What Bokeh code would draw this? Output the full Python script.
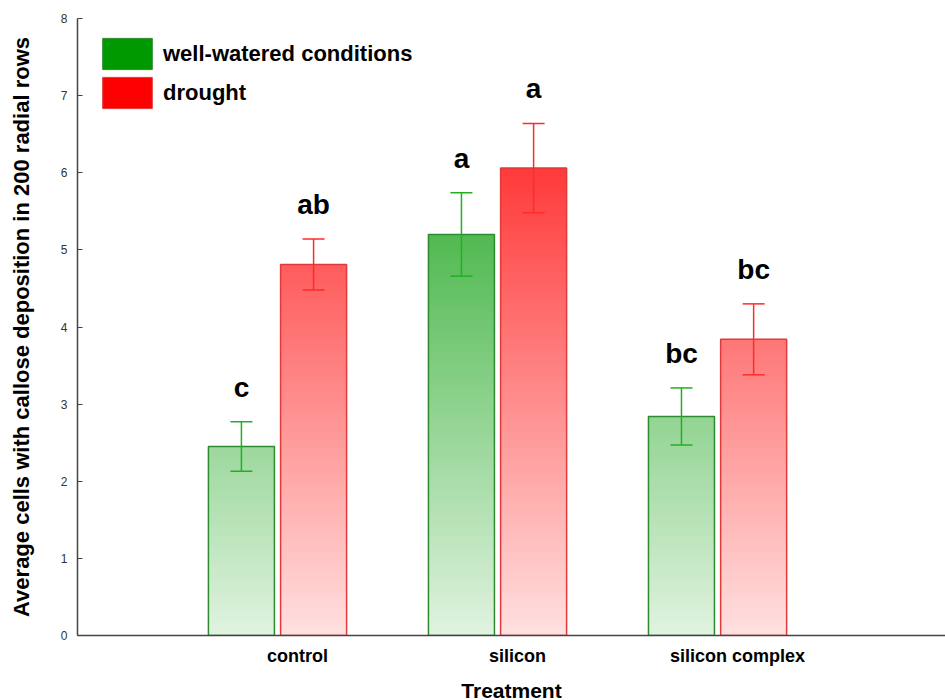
import numpy as np
from bokeh.plotting import figure
from bokeh.models import (Range1d, FixedTicker, Whisker, TeeHead, ColumnDataSource,
                          Legend, LegendItem)
from bokeh.core.properties import value
from bokeh.embed import file_html
from bokeh.resources import INLINE

# ---- data ----
categories = ["control", "silicon", "silicon complex"]
series_names = ["well-watered conditions", "drought"]
well_mean = [2.45, 5.20, 2.84]
well_err = [0.32, 0.54, 0.37]
drought_mean = [4.81, 6.06, 3.84]
drought_err = [0.33, 0.58, 0.46]
well_letters = ["c", "a", "bc"]
drought_letters = ["ab", "a", "bc"]
y_ticks = [0, 1, 2, 3, 4, 5, 6, 7, 8]

FONT = "Liberation Sans"
cat_pos = np.arange(1, len(categories) + 1, dtype=float)
BAR_W = 0.30
OFFSETS = [-0.255, 0.073]
BASES = [(0, 153, 0), (255, 0, 0)]
OUTLINES = ["#2e8a2e", "#e03a3a"]
ERRCOL = ["#22b022", "#ff2a2a"]

p = figure(frame_width=868, frame_height=617,
           x_range=Range1d(0, 3.945), y_range=Range1d(0, 8),
           output_backend="svg", toolbar_location=None,
           min_border_left=77, min_border_right=0, min_border_top=18, min_border_bottom=62)
p.grid.visible = False
p.outline_line_color = None
p.background_fill_color = "white"


def shade(base, y):
    a = min(1.0, 0.12 + 0.108 * y)
    return "#%02x%02x%02x" % tuple(int(round(255 * (1 - a) + c * a)) for c in base)


STEP = 0.04
for si, (means, errs, letters) in enumerate([(well_mean, well_err, well_letters),
                                              (drought_mean, drought_err, drought_letters)]):
    xs = cat_pos + OFFSETS[si]
    # gradient fill from stacked opaque slices
    L, R, B, T, C = [], [], [], [], []
    for x, m in zip(xs, means):
        for y0 in np.arange(0, m, STEP):
            L.append(x - BAR_W / 2)
            R.append(x + BAR_W / 2)
            B.append(y0)
            T.append(min(y0 + STEP * 1.6, m))
            C.append(shade(BASES[si], y0 + STEP / 2))
    p.quad(left=L, right=R, bottom=B, top=T, fill_color=C, line_color=None)
    # outline
    p.vbar(x=list(xs), top=means, width=BAR_W, bottom=0, fill_color=None,
           line_color=OUTLINES[si], line_width=1.5)
    # error bars
    src = ColumnDataSource(dict(x=list(xs),
                                upper=[m + e for m, e in zip(means, errs)],
                                lower=[m - e for m, e in zip(means, errs)]))
    w = Whisker(base="x", upper="upper", lower="lower", source=src,
                line_color=ERRCOL[si], line_width=1.5, level="annotation",
                upper_head=TeeHead(size=22, line_color=ERRCOL[si], line_width=1.5),
                lower_head=TeeHead(size=22, line_color=ERRCOL[si], line_width=1.5))
    p.add_layout(w)
    # significance letters
    p.text(x=list(xs), y=[m + e + 0.45 for m, e in zip(means, errs)], text=letters,
           text_font=value(FONT), text_font_style="bold", text_font_size="28px",
           text_align="center", text_baseline="alphabetic", text_color="black")

# legend (swatch renderers hold a single NaN row so nothing is drawn in the plot)
lg_r = []
for si in range(2):
    lg_r.append(p.quad(left=[np.nan], right=[np.nan], bottom=[np.nan], top=[np.nan],
                       fill_color="#%02x%02x%02x" % BASES[si], line_color=OUTLINES[si]))
legend = Legend(items=[LegendItem(label=n, renderers=[r]) for n, r in zip(series_names, lg_r)],
                location=(19, 617 - 16 - 78), margin=0, padding=0, spacing=0,
                glyph_width=62, glyph_height=39, label_standoff=5,
                label_text_font=FONT, label_text_font_style="bold",
                label_text_font_size="22px", label_text_color="black",
                label_text_baseline="alphabetic",
                border_line_alpha=0, background_fill_alpha=0)
p.add_layout(legend)

# axes
xa = p.xaxis[0]
xa.ticker = FixedTicker(ticks=list(cat_pos))
xa.major_label_overrides = {int(c): n for c, n in zip(cat_pos, categories)}
xa.major_tick_in = 0
xa.major_tick_out = 0
xa.minor_tick_line_color = None
xa.axis_line_color = "#444444"
xa.axis_line_width = 1.5
xa.major_label_text_font = FONT
xa.major_label_text_font_style = "bold"
xa.major_label_text_font_size = "18px"
xa.major_label_text_color = "black"
xa.major_label_standoff = 10
xa.axis_label = "Treatment"
xa.axis_label_text_font = FONT
xa.axis_label_text_font_style = "bold"
xa.axis_label_text_font_size = "21px"
xa.axis_label_text_color = "black"
xa.axis_label_standoff = 10

ya = p.yaxis[0]
ya.ticker = FixedTicker(ticks=y_ticks)
ya.major_tick_in = 5
ya.major_tick_out = 0
ya.minor_tick_line_color = None
ya.axis_line_color = "#444444"
ya.axis_line_width = 1.5
ya.major_tick_line_color = "#444444"
ya.major_label_text_font = FONT
ya.major_label_text_font_size = "12px"
ya.major_label_text_color = "#333333"
ya.major_label_standoff = 10
ya.axis_label = "Average cells with callose deposition in 200 radial rows"
ya.axis_label_text_font = FONT
ya.axis_label_text_font_style = "bold"
ya.axis_label_text_font_size = "22px"
ya.axis_label_text_color = "black"
ya.axis_label_standoff = 24

open("out.html", "w").write(file_html(p, INLINE))
